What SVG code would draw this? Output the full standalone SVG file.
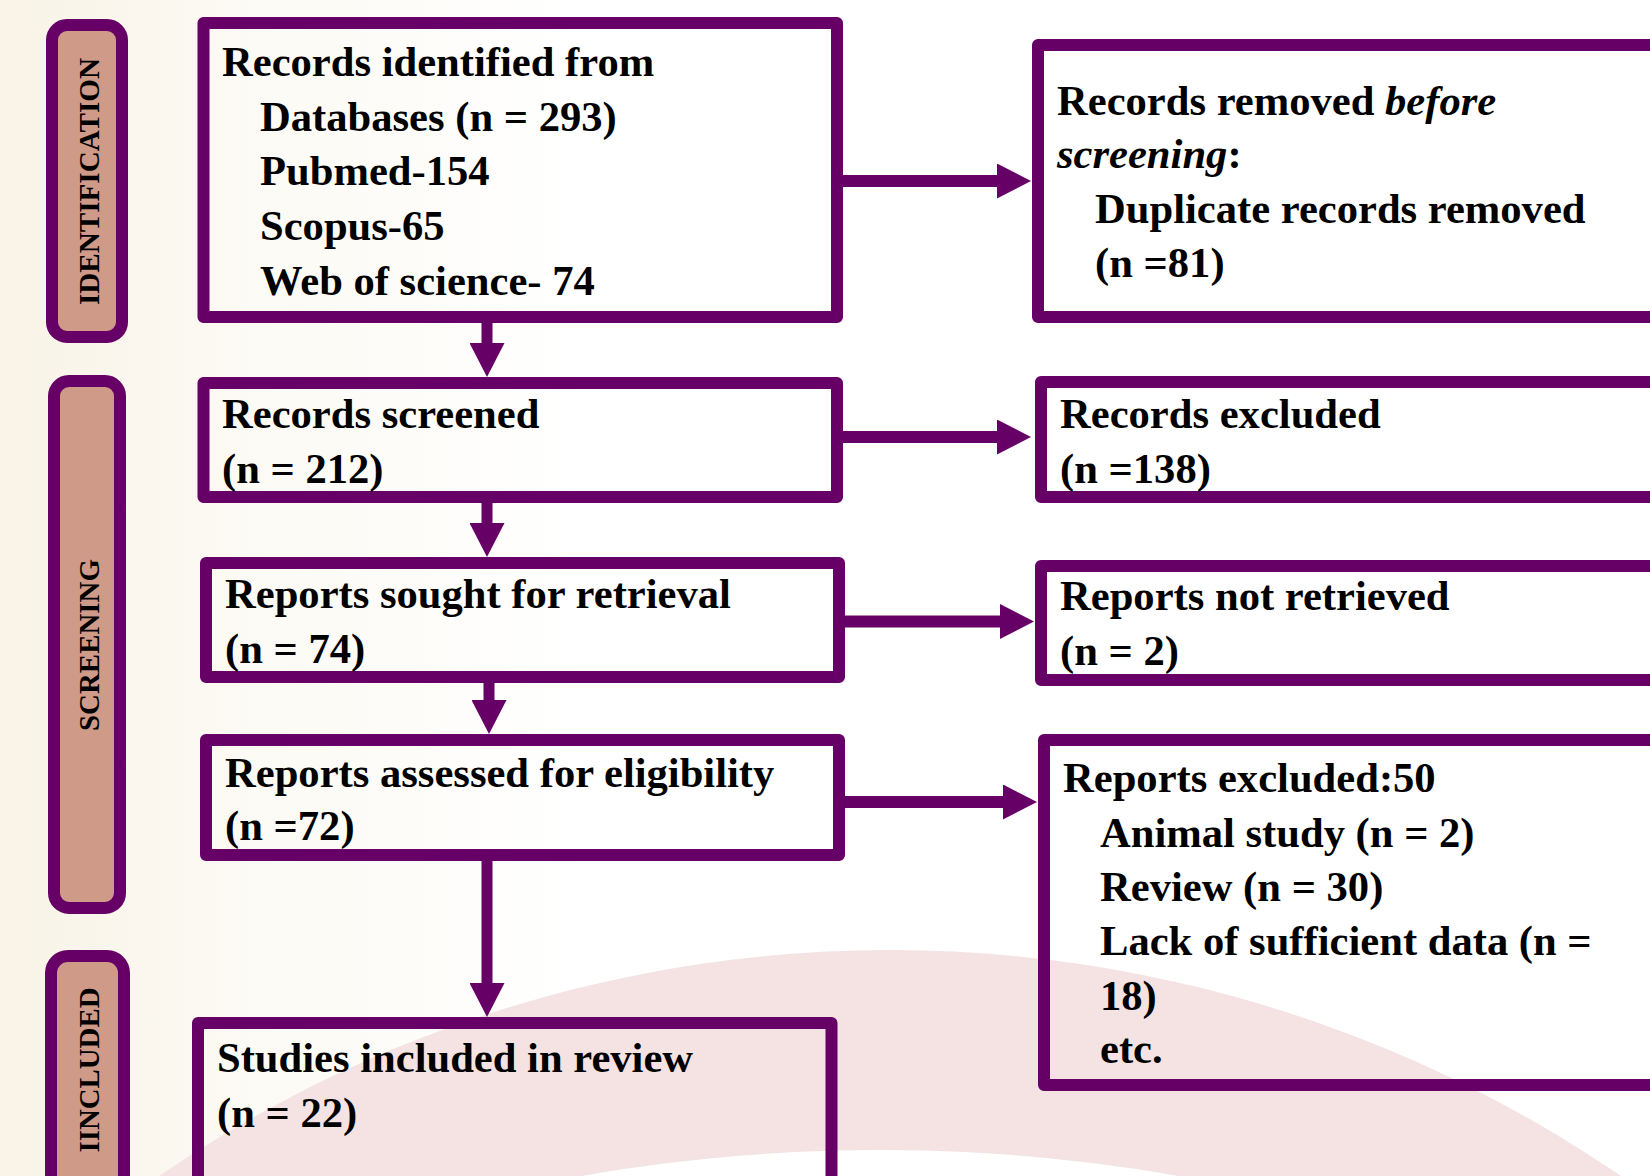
<svg xmlns="http://www.w3.org/2000/svg" width="1650" height="1176" viewBox="0 0 1650 1176">
  <defs>
    <linearGradient id="bgGrad" x1="0" y1="0" x2="1" y2="0" gradientUnits="objectBoundingBox">
      <stop offset="0" stop-color="#F8F3E6"/>
      <stop offset="0.15" stop-color="#FCFAF4"/>
      <stop offset="0.35" stop-color="#FFFFFF"/>
      <stop offset="1" stop-color="#FFFFFF"/>
    </linearGradient>
    <marker id="head" viewBox="0 0 34 35" markerWidth="34" markerHeight="35" refX="0" refY="17.5" orient="auto" markerUnits="userSpaceOnUse">
      <path d="M0,0 L34,17.5 L0,35 Z" fill="#660066"/>
    </marker>
    <style>
      .box { fill: none; stroke: #660066; stroke-width: 12; stroke-linejoin: round; }
      .stage { fill: #CF9A87; stroke: #660066; stroke-width: 12; }
      .conn { fill: none; stroke: #660066; stroke-width: 12; marker-end: url(#head); }
      .vconn { fill: none; stroke: #660066; stroke-width: 11; marker-end: url(#head); }
      .t { font-family: "Liberation Serif", "Times New Roman", serif; font-weight: bold; font-size: 42.6px; fill: #000; }
      .it { font-style: italic; }
      .lbl { font-family: "Liberation Serif", "Times New Roman", serif; font-weight: bold; font-size: 29px; fill: #000; text-anchor: middle; }
    </style>
  </defs>

  <!-- background -->
  <rect x="0" y="0" width="1650" height="1176" fill="url(#bgGrad)"/>
  <circle cx="890" cy="2245" r="1295" fill="#F5E3E4"/>
  <circle cx="880" cy="2870" r="1720" fill="#FFFFFF"/>

  <!-- stage labels -->
  <g id="stage-identification">
    <rect class="stage" x="52" y="25" width="70" height="312" rx="15"/>
    <text class="lbl" transform="translate(99,181.5) rotate(-90)" x="0" y="0" textLength="247" lengthAdjust="spacingAndGlyphs">IDENTIFICATION</text>
  </g>
  <g id="stage-screening">
    <rect class="stage" x="54" y="381" width="66" height="527" rx="15"/>
    <text class="lbl" transform="translate(99,645) rotate(-90)" x="0" y="0" textLength="172" lengthAdjust="spacingAndGlyphs">SCREENING</text>
  </g>
  <g id="stage-included">
    <rect class="stage" x="51" y="956" width="73" height="300" rx="17"/>
    <text class="lbl" transform="translate(99,1070) rotate(-90)" x="0" y="0" textLength="165" lengthAdjust="spacingAndGlyphs">IINCLUDED</text>
  </g>

  <!-- connectors -->
  <g id="connectors">
    <line class="conn" x1="843" y1="181" x2="997" y2="181"/>
    <line class="conn" x1="843" y1="437" x2="997" y2="437"/>
    <line class="conn" x1="845" y1="621.5" x2="1000" y2="621.5"/>
    <line class="conn" x1="845" y1="802" x2="1003" y2="802"/>
    <line class="vconn" x1="487" y1="323" x2="487" y2="343"/>
    <line class="vconn" x1="487" y1="503" x2="487" y2="523"/>
    <line class="vconn" x1="489" y1="680" x2="489" y2="700"/>
    <line class="vconn" x1="487" y1="861" x2="487" y2="983"/>
  </g>

  <!-- nodes -->
  <g id="node-identified">
    <rect class="box" x="203.5" y="23" width="633.5" height="294"/>
    <text class="t">
      <tspan x="222" y="76">Records identified from</tspan>
      <tspan x="260" y="131">Databases (n = 293)</tspan>
      <tspan x="260" y="185">Pubmed-154</tspan>
      <tspan x="260" y="240">Scopus-65</tspan>
      <tspan x="260" y="295">Web of science- 74</tspan>
    </text>
  </g>

  <g id="node-removed">
    <rect class="box" x="1038" y="45" width="700" height="272"/>
    <text class="t">
      <tspan x="1057" y="115">Records removed <tspan class="it">before</tspan></tspan>
      <tspan x="1057" y="168"><tspan class="it">screening</tspan>:</tspan>
      <tspan x="1095" y="223">Duplicate records removed</tspan>
      <tspan x="1095" y="277">(n =81)</tspan>
    </text>
  </g>

  <g id="node-screened">
    <rect class="box" x="203.5" y="383" width="633.5" height="114"/>
    <text class="t">
      <tspan x="222" y="428">Records screened</tspan>
      <tspan x="222" y="483">(n = 212)</tspan>
    </text>
  </g>

  <g id="node-excluded">
    <rect class="box" x="1041" y="382" width="700" height="115"/>
    <text class="t">
      <tspan x="1060" y="428">Records excluded</tspan>
      <tspan x="1060" y="483">(n =138)</tspan>
    </text>
  </g>

  <g id="node-sought">
    <rect class="box" x="206" y="563" width="633" height="114"/>
    <text class="t">
      <tspan x="225" y="608">Reports sought for retrieval</tspan>
      <tspan x="225" y="663">(n = 74)</tspan>
    </text>
  </g>

  <g id="node-not-retrieved">
    <rect class="box" x="1041" y="566" width="700" height="114"/>
    <text class="t">
      <tspan x="1060" y="610">Reports not retrieved</tspan>
      <tspan x="1060" y="665">(n = 2)</tspan>
    </text>
  </g>

  <g id="node-assessed">
    <rect class="box" x="206" y="740" width="633" height="115"/>
    <text class="t">
      <tspan x="225" y="787">Reports assessed for eligibility</tspan>
      <tspan x="225" y="840">(n =72)</tspan>
    </text>
  </g>

  <g id="node-reports-excluded">
    <rect class="box" x="1044" y="740" width="700" height="345"/>
    <text class="t">
      <tspan x="1063" y="792">Reports excluded:50</tspan>
      <tspan x="1100" y="847">Animal study (n = 2)</tspan>
      <tspan x="1100" y="901">Review (n = 30)</tspan>
      <tspan x="1100" y="955">Lack of sufficient data (n =</tspan>
      <tspan x="1100" y="1010">18)</tspan>
      <tspan x="1100" y="1063">etc.</tspan>
    </text>
  </g>

  <g id="node-included">
    <rect class="box" x="198" y="1023" width="633.5" height="200"/>
    <text class="t">
      <tspan x="217" y="1072">Studies included in review</tspan>
      <tspan x="217" y="1127">(n = 22)</tspan>
    </text>
  </g>
</svg>
